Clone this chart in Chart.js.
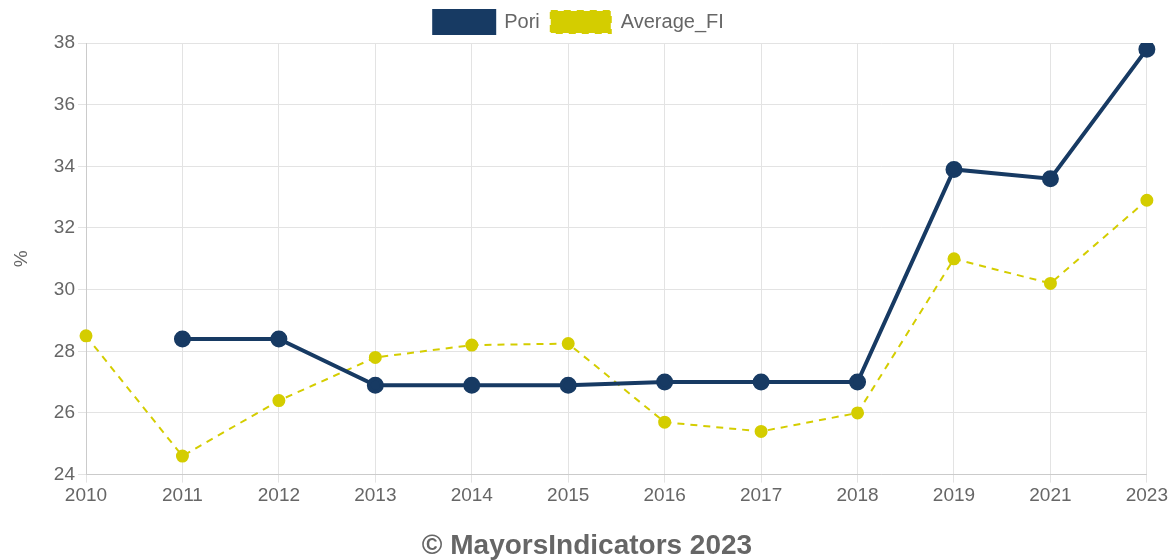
<!DOCTYPE html>
<html>
<head>
<meta charset="utf-8">
<script src="https://cdn.jsdelivr.net/npm/chart.js@4"></script>
<style>
  html, body { margin: 0; padding: 0; background: #fff; }
  .chartBox { width: 1170px; height: 560px; }
</style>
</head>
<body>
<div class="chartBox"><canvas id="myChart"></canvas></div>
<script>
// values
const years = ['2010', '2011', '2012', '2013', '2014', '2015', '2016', '2017', '2018', '2019', '2021', '2023'];
const pori = [null, 28.4, 28.4, 26.9, 26.9, 26.9, 27.0, 27.0, 27.0, 33.9, 33.6, 37.8];
const averageFI = [28.5, 24.6, 26.4, 27.8, 28.2, 28.25, 25.7, 25.4, 26.0, 31.0, 30.2, 32.9];

Chart.defaults.font.family = "'Liberation Sans', Arial, sans-serif";
Chart.defaults.color = '#666';

// the footer title sits a bit right of the legend in the original
const nudgeTitle = {
  id: 'nudgeTitle',
  afterLayout(chart) {
    if (chart.titleBlock) {
      chart.titleBlock.left += 8;
      chart.titleBlock.right += 8;
    }
  }
};

let ctx = document.getElementById('myChart');
new Chart(ctx, {
  type: 'line',
  data: {
    labels: years,
    datasets: [
      {
        label: 'Pori',
        data: pori,
        borderColor: '#173a63',
        backgroundColor: '#173a63',
        pointBackgroundColor: '#173a63',
        borderWidth: 4,
        pointRadius: 6.5,
        tension: 0,
        fill: false
      },
      {
        label: 'Average_FI',
        data: averageFI,
        borderColor: '#d4cd00',
        backgroundColor: '#d4cd00',
        pointBackgroundColor: '#d4cd00',
        borderWidth: 2,
        borderDash: [7, 6],
        pointRadius: 5.5,
        tension: 0,
        fill: false
      }
    ]
  },
  plugins: [nudgeTitle],
  options: {
    responsive: true,
    maintainAspectRatio: false,
    animation: false,
    layout: { padding: { left: -10, right: 2, top: 0, bottom: 0 } },
    plugins: {
      legend: {
        position: 'top',
        labels: {
          boxWidth: 60,
          boxHeight: 22,
          padding: 11,
          font: { size: 20 }
        }
      },
      title: {
        display: true,
        position: 'bottom',
        text: '© MayorsIndicators 2023',
        color: '#666',
        font: { size: 28, weight: 'bold' },
        padding: { top: 20, bottom: -3 }
      },
      tooltip: { enabled: false }
    },
    scales: {
      x: {
        grid: { color: '#e3e3e3' },
        ticks: { font: { size: 19 }, maxRotation: 0, padding: 2 }
      },
      y: {
        min: 24,
        max: 38,
        grid: { color: '#e3e3e3' },
        ticks: { stepSize: 2, font: { size: 19 } },
        title: { display: true, text: '%', font: { size: 19 }, padding: { top: 20, bottom: 4 } },
        afterFit: function(scale) { scale.width = 96; }
      }
    }
  }
});
</script>
</body>
</html>
